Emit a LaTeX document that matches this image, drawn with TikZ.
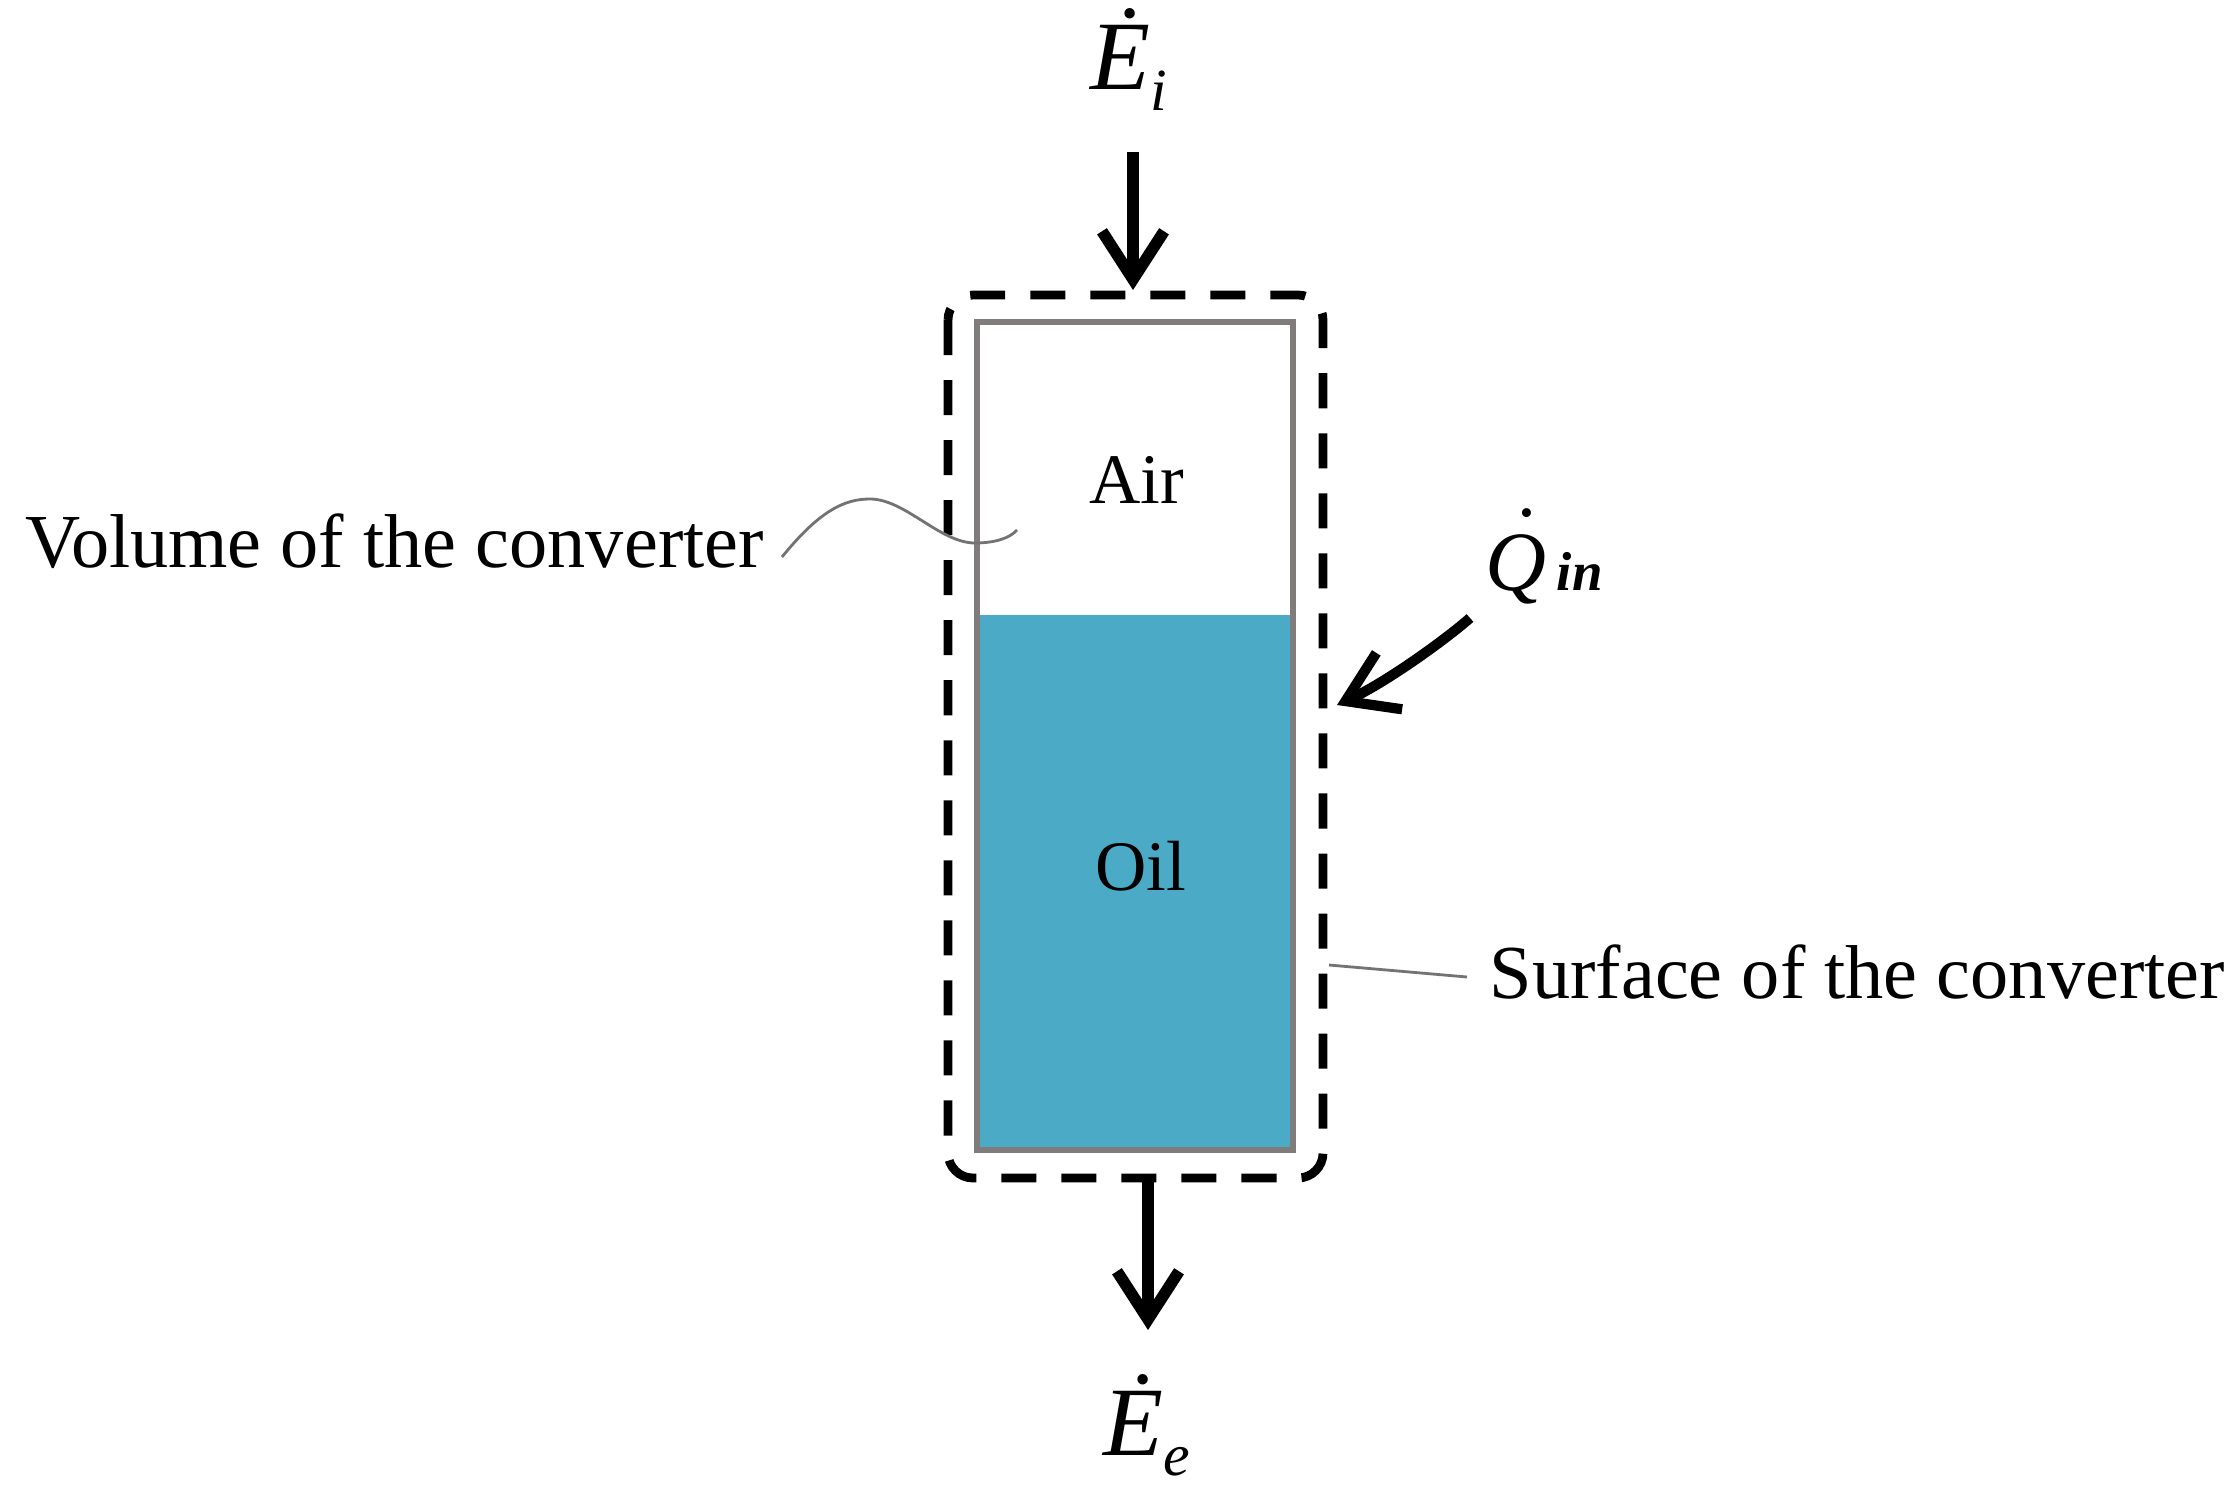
\documentclass[tikz,border=0pt]{standalone}
\usepackage{fontspec}
\setmainfont{Liberation Serif}
\usetikzlibrary{arrows.meta}
\definecolor{oilblue}{RGB}{75,171,198}
\definecolor{wallgray}{RGB}{128,124,124}
\definecolor{leadgray}{RGB}{115,115,115}

\begin{document}
\begin{tikzpicture}[x=0.01cm, y=-0.01cm,
    flow/.style={line width=3.3pt, -{Straight Barb[length=4.8mm,width=6.2mm]}},
    leader/.style={leadgray, line width=0.8pt},
    boundary/.style={line width=2.5pt, dash pattern=on 3.5mm off 2.5mm, rounded corners=2.5mm},
    txt/.style={inner sep=0pt, font=\fontsize{21.7}{24}\selectfont}]

    \useasboundingbox (0,0) rectangle (2237,1500);

    % converter
    \fill[oilblue] (977,615) rectangle (1293,1150);
    \draw[wallgray, line width=1.8pt] (977,322) rectangle (1293,1150);
    \draw[boundary] (948,295) rectangle (1323,1178);

    \node[txt, anchor=base, font=\fontsize{20.2}{24}\selectfont] (air) at (1137,503) {Air};
    \node[txt, anchor=base, font=\fontsize{20.2}{24}\selectfont] (oil) at (1141,890) {Oil};

    % labels
    \node[txt, anchor=base west] (vol) at (25,567) {Volume of the converter};
    \node[txt, anchor=base west] (surf) at (1489,998) {Surface of the converter};
    \node[inner sep=0pt, anchor=base west] (ei) at (1090,90)
        {\fontsize{27.9}{30}\selectfont{\itshape\.E}\raisebox{-5.7pt}{\fontsize{17}{17}\selectfont\itshape i}};
    \node[inner sep=0pt, anchor=base west] (ee) at (1103,1455)
        {\fontsize{27.9}{30}\selectfont{\itshape\.E}\raisebox{-5.7pt}{\fontsize{17}{17}\selectfont\itshape e}};
    \node[inner sep=0pt, anchor=base west] (qin) at (1485,590)
        {\fontsize{24}{26}\selectfont{\itshape\rlap{\raisebox{0.3em}{\kern0.26em\char"02D9}}Q}\kern0.12em%
         \fontsize{15.6}{17}\selectfont{\bfseries\itshape in}};

    \coordinate (intop) at (1133,152);
    \coordinate (intip) at (1133,290);
    \coordinate (outtop) at (1148,1178);
    \coordinate (outtip) at (1148,1330);
    \coordinate (qstart) at (1470,618);
    \coordinate (qtip) at (1337,705);
    \coordinate (volstart) at (782,557);
    \coordinate (volend) at (1017,530);
    \coordinate (surfstart) at (1329,965);
    \coordinate (surfend) at (1467,977);

    % flows
    \draw[flow] (intop) -- (intip);
    \draw[flow] (outtop) -- (outtip);
    \draw[flow, line width=2.9pt] (qstart) .. controls (1445,640) and (1385,683) .. (qtip);

    % leaders
    \draw[leader] (volstart) .. controls (820,510) and (845,499) .. (870,499)
        .. controls (905,499) and (940,543) .. (975,543)
        .. controls (995,543) and (1010,538) .. (volend);
    \draw[leader] (surfstart) -- (surfend);

\end{tikzpicture}
\end{document}
